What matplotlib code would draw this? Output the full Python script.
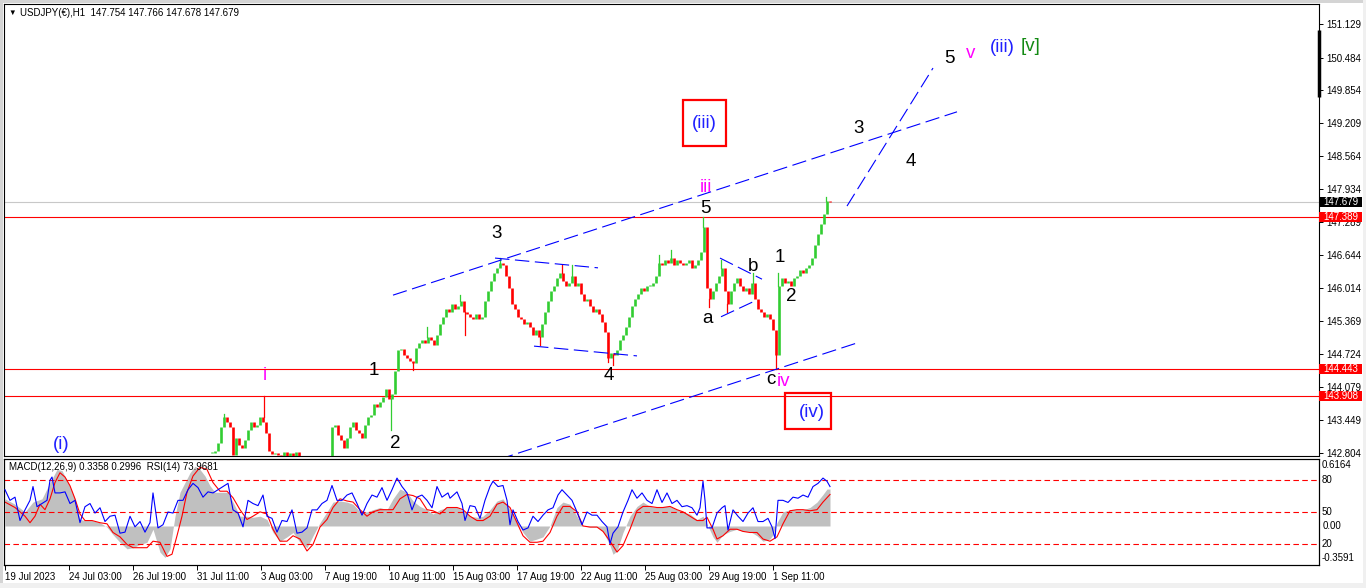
import numpy as np
import matplotlib.pyplot as plt
import matplotlib.transforms as mtransforms
from matplotlib.patches import Rectangle

W, H = 1366, 588
plt.rcParams['font.family'] = ['Liberation Sans', 'DejaVu Sans']

# bar numbers count hourly bars from 19 Jul 2023 11:00
# closes read every 3rd bar from bar 207 on (earlier bars sit below the window)
first_bar = 207
closes = [
    142.80, 142.85, 143.00, 143.30, 143.50, 143.40, 143.30, 142.76, 143.10, 142.95,
    142.90, 143.05, 143.25, 143.40, 143.30, 143.35, 143.50, 143.40, 143.20, 142.85,
    142.78, 142.80, 142.76, 142.70, 142.82, 142.65, 142.80, 142.70, 142.83, 142.60,
    142.55, 142.50, 142.55, 142.50, 142.45, 142.50, 142.55, 142.60, 142.65, 142.70,
    143.30, 143.35, 143.15, 143.05, 142.90, 143.10, 143.30, 143.40, 143.25, 143.20,
    143.10, 143.35, 143.50, 143.55, 143.75, 143.70, 143.80, 143.90, 144.05, 143.85,
    143.95, 144.40, 144.80, 144.82, 144.70, 144.65, 144.60, 144.55, 144.85, 144.95,
    145.00, 144.95, 145.05, 145.00, 144.90, 145.10, 145.30, 145.45, 145.60, 145.55,
    145.70, 145.60, 145.65, 145.75, 145.55, 145.50, 145.45, 145.40, 145.50, 145.40,
    145.45, 145.75, 145.95, 146.15, 146.30, 146.40, 146.50, 146.45, 146.25, 146.00,
    145.70, 145.60, 145.45, 145.40, 145.30, 145.35, 145.25, 145.10, 145.20, 145.05,
    145.30, 145.55, 145.75, 145.95, 146.05, 146.20, 146.30, 146.15, 146.05, 146.10,
    146.25, 146.05, 146.10, 145.90, 145.75, 145.80, 145.65, 145.55, 145.60, 145.50,
    145.35, 145.15, 144.65, 144.75, 144.70, 144.80, 145.00, 145.10, 145.25, 145.45,
    145.65, 145.80, 145.90, 146.00, 145.95, 146.05, 146.05, 146.10, 146.25, 146.50,
    146.45, 146.55, 146.50, 146.60, 146.45, 146.55, 146.50, 146.45, 146.50, 146.55,
    146.40, 146.45, 146.55, 146.70, 147.20, 146.00, 145.80, 145.95, 146.10, 146.25,
    146.40, 145.95, 145.70, 145.95, 146.10, 146.20, 146.05, 145.95, 146.00, 145.90,
    146.10, 145.80, 145.60, 145.55, 145.45, 145.50, 145.40, 145.20, 144.70, 146.05,
    146.20, 146.10, 146.15, 146.05, 146.20, 146.25, 146.35, 146.30, 146.40, 146.45,
    146.60, 146.85, 147.05, 147.25, 147.45, 147.70, 147.68,
]
# long wicks
spike_bars = [219, 259, 386, 408, 422, 455, 460, 495, 535, 557, 567, 603, 608,
              654, 666, 698, 704, 716, 722, 748, 771, 773, 821]
spike_prices = [143.56, 143.91, 143.25, 144.42, 145.25, 145.88, 145.10, 146.60,
                144.90, 146.46, 146.45, 144.57, 144.52, 146.65, 146.75, 147.39,
                145.64, 146.55, 145.55, 146.30, 144.44, 146.30, 147.78]

red_levels = [147.389, 144.443, 143.908]
last_price = 147.679

price_ticks = [142.804, 143.449, 144.079, 144.724, 145.369, 146.014, 146.644,
               147.289, 147.934, 148.564, 149.209, 149.854, 150.484, 151.129]
date_bars = [0, 64, 128, 192, 256, 320, 384, 448, 512, 576, 640, 704, 768]
date_labels = ['19 Jul 2023', '24 Jul 03:00', '26 Jul 19:00', '31 Jul 11:00',
               '3 Aug 03:00', '7 Aug 19:00', '10 Aug 11:00', '15 Aug 03:00',
               '17 Aug 19:00', '22 Aug 11:00', '25 Aug 03:00', '29 Aug 19:00',
               '1 Sep 11:00']

rsi_bars = [0, 5, 10, 15, 20, 25, 28, 32, 37, 42, 45, 47, 50, 55, 60, 65, 70, 75, 80, 85,
            90, 95, 100, 105, 110, 115, 120, 125, 130, 135, 140, 145, 148, 153, 158, 163,
            168, 173, 178, 183, 188, 193, 198, 203, 208, 213, 218, 223, 228, 233, 238,
            243, 248, 253, 258, 262, 267, 272, 277, 282, 287, 292, 297, 302, 307, 312,
            317, 322, 327, 332, 337, 342, 347, 352, 357, 362, 367, 372, 377, 382, 387,
            392, 397, 402, 407, 412, 417, 422, 427, 432, 437, 443, 445, 452, 457, 460,
            465, 470, 475, 480, 485, 488, 493, 498, 502, 505, 508, 513, 518, 523, 528,
            533, 538, 543, 548, 553, 557, 562, 567, 572, 577, 582, 587, 592, 597, 602,
            605, 608, 613, 618, 623, 627, 632, 637, 642, 647, 652, 657, 662, 667, 672,
            677, 682, 687, 692, 695, 698, 700, 702, 707, 712, 717, 720, 723, 728, 733,
            738, 743, 748, 753, 758, 763, 767, 770, 773, 778, 783, 788, 793, 798, 803,
            808, 813, 818, 822, 825]
rsi_vals = [71, 61, 64, 42, 52, 61, 74, 55, 58, 61, 80, 83, 68, 68, 69, 58, 61, 40, 55, 58,
            49, 54, 41, 46, 47, 30, 31, 46, 36, 41, 31, 40, 68, 35, 38, 50,
            49, 61, 61, 71, 77, 73, 64, 69, 68, 71, 74, 77, 52, 49,
            36, 61, 58, 56, 66, 46, 44, 31, 42, 41, 52, 30, 31, 35, 52,
            52, 58, 61, 75, 61, 61, 66, 68, 58, 47, 58, 66, 64, 73, 61,
            71, 82, 74, 68, 52, 64, 66, 61, 54, 74, 64, 68, 63, 69, 58, 42,
            56, 55, 44, 61, 74, 79, 74, 75, 61, 38, 52, 41, 33, 35, 46,
            41, 47, 52, 54, 66, 71, 66, 61, 50, 38, 50, 47, 47, 41, 36,
            20, 30, 36, 50, 61, 71, 63, 68, 61, 58, 71, 59, 68, 58, 61,
            55, 56, 54, 47, 54, 79, 61, 35, 35, 49, 54, 56, 33, 52, 46,
            41, 49, 54, 41, 41, 44, 36, 25, 61, 61, 59, 64, 63, 66, 64,
            74, 77, 82, 79, 74]

macd_bars = [0, 10, 20, 28, 37, 45, 52, 57, 63, 70, 75, 80, 87, 95, 102, 108, 115, 122,
             128, 135, 142, 148, 155, 160, 165, 170, 175, 180, 185, 190, 195, 200, 205,
             210, 217, 223, 228, 235, 242, 248, 255, 262, 268, 275, 282, 288, 295, 302,
             308, 315, 322, 328, 335, 342, 348, 355, 362, 368, 375, 382, 388, 395, 402,
             408, 415, 422, 428, 435, 442, 452, 458, 465, 472, 478, 485, 492, 498, 505,
             512, 518, 525, 532, 538, 545, 552, 558, 565, 572, 578, 585, 592, 598, 605,
             608, 612, 618, 625, 632, 638, 645, 652, 658, 665, 672, 678, 685, 692, 698,
             702, 708, 712, 718, 725, 732, 738, 745, 752, 758, 765, 768, 772, 778, 785,
             792, 798, 805, 812, 818, 822, 825]
macd_vals = [0.25, 0.20, 0.13, 0.22, 0.25, 0.40, 0.52, 0.51, 0.40, 0.25, 0.06, 0.05, 0.05,
             0.03, -0.01, -0.08, -0.15, -0.21, -0.20, -0.17, -0.15, -0.03, -0.24, -0.29,
             -0.21, 0.09, 0.31, 0.40, 0.49, 0.55, 0.52, 0.46, 0.37, 0.31, 0.31, 0.31, 0.22,
             0.09, 0.09, 0.08, 0.09, 0.06, -0.06, -0.14, -0.10, -0.06, -0.15, -0.20, -0.09,
             0.03, 0.13, 0.22, 0.23, 0.22, 0.20, 0.13, 0.13, 0.15, 0.17, 0.15, 0.25, 0.34,
             0.31, 0.23, 0.18, 0.15, 0.11, 0.15, 0.17, 0.17, 0.14, 0.09, 0.08, 0.09, 0.15,
             0.23, 0.25, 0.15, 0.05, -0.06, -0.14, -0.12, -0.10, 0.0, 0.17, 0.22, 0.20,
             0.09, 0.0, -0.01, -0.01, -0.05, -0.18, -0.26, -0.23, -0.06, 0.09, 0.18, 0.22,
             0.18, 0.17, 0.18, 0.18, 0.15, 0.13, 0.11, 0.06, 0.09, 0.02, -0.10, -0.15,
             -0.08, -0.05, -0.03, -0.05, -0.05, -0.09, -0.14, -0.12, -0.08, 0.03, 0.13,
             0.15, 0.15, 0.15, 0.17, 0.22, 0.29, 0.34, 0.34]

signal_bars = [0, 10, 20, 25, 30, 35, 40, 45, 50, 55, 60, 65, 70, 75, 80, 87, 95, 102,
               108, 115, 122, 128, 135, 142, 148, 155, 162, 167, 172, 177, 182, 188, 195,
               202, 208, 215, 222, 228, 235, 242, 248, 255, 262, 268, 275, 282, 288, 295,
               302, 308, 315, 322, 328, 335, 342, 348, 355, 362, 368, 375, 382, 388, 395,
               402, 408, 415, 422, 428, 435, 442, 452, 458, 465, 472, 478, 485, 492, 498,
               505, 512, 518, 525, 532, 538, 545, 552, 558, 565, 572, 578, 585, 592, 598,
               605, 612, 618, 625, 632, 638, 645, 652, 658, 665, 672, 678, 685, 692, 698,
               702, 708, 712, 718, 725, 732, 738, 745, 752, 758, 765, 772, 778, 785, 792,
               798, 805, 812, 818, 825]
signal_vals = [0.22, 0.17, 0.09, 0.03, 0.09, 0.20, 0.15, 0.25, 0.40, 0.49, 0.45, 0.37,
               0.25, 0.11, 0.05, 0.05, 0.03, 0.02, -0.06, -0.10, -0.17, -0.20, -0.20,
               -0.20, -0.14, -0.15, -0.28, -0.26, -0.09, 0.09, 0.31, 0.46, 0.54, 0.52,
               0.40, 0.32, 0.32, 0.26, 0.15, 0.06, 0.09, 0.13, 0.11, -0.03, -0.14, -0.14,
               -0.09, -0.12, -0.23, -0.17, -0.01, 0.06, 0.17, 0.25, 0.23, 0.22, 0.15, 0.09,
               0.13, 0.15, 0.15, 0.15, 0.25, 0.29, 0.28, 0.25, 0.15, 0.14, 0.11, 0.17, 0.17,
               0.15, 0.09, 0.05, 0.05, 0.09, 0.20, 0.22, 0.17, 0.03, -0.09, -0.15, -0.15,
               -0.14, -0.06, 0.09, 0.18, 0.18, 0.13, 0.0, -0.01, -0.01, -0.05, -0.14, -0.24,
               -0.18, -0.03, 0.14, 0.18, 0.18, 0.17, 0.17, 0.18, 0.15, 0.13, 0.09, 0.05,
               0.05, 0.08, -0.03, -0.12, -0.09, -0.03, -0.03, -0.05, -0.06, -0.06, -0.12,
               -0.14, -0.10, 0.02, 0.14, 0.15, 0.15, 0.14, 0.15, 0.22, 0.29]

FS = 7.0


def px_box(l, t, r, b):
    return [l / W, 1 - b / H, (r - l) / W, (b - t) / H]


fig = plt.figure(figsize=(W / 100, H / 100), dpi=100, facecolor='white')

# window frame
for (l, t, r, b, col) in [(0, 0, W, 3, '#d4d4d4'), (0, 0, 3, H, '#d4d4d4'),
                          (0, 583, W, H, '#f0f0f0'), (1363, 0, W, H, '#f0f0f0')]:
    fig.add_artist(Rectangle((l / W, 1 - b / H), (r - l) / W, (b - t) / H,
                             transform=fig.transFigure, color=col, lw=0, zorder=-5))

ymin, ymax = 142.746, 151.524
ax = fig.add_axes(px_box(4, 4, 1319, 456))
ax.set_xlim(-1, 1314)
ax.set_ylim(ymin, ymax)
ax.set_xticks([])
ax.yaxis.tick_right()
ax.set_yticks(price_ticks)
ax.set_yticklabels(['%.3f' % v for v in price_ticks])
ax.tick_params(axis='y', direction='out', length=3, width=0.7, pad=2, labelsize=FS)
for s in ax.spines.values():
    s.set_linewidth(0.8)
pp = (ymax - ymin) / 452.0
trans = mtransforms.blended_transform_factory(ax.transAxes, ax.transData)

# horizontal levels
ax.axhline(last_price, color='#c8c8c8', lw=0.8, zorder=1)
for lv in red_levels:
    ax.axhline(lv, color='red', lw=0.8, zorder=1)

# candles
c = np.array(closes)
o = np.r_[c[0], c[:-1]]
bars = first_bar + 3 * np.arange(len(c))
cols = np.where(c >= o, '#32cd32', '#ff0000')
lo = np.minimum(o, c)
hi = np.maximum(np.maximum(o, c), lo + 0.02)
ax.vlines(bars, lo, hi, colors=cols, lw=1.9, zorder=3)
for b, p in zip(spike_bars, spike_prices):
    j = int(round((b - first_bar) / 3))
    j = min(max(j, 0), len(c) - 1)
    base = hi[j] if p > hi[j] else lo[j]
    ax.plot([b, b], [base, p], color=cols[j], lw=0.9, zorder=3)

# trend lines
dash = (0, (13, 5))
for (b0, p0, b1, p1) in [(388, 145.87, 952, 149.43), (475, 142.56, 855, 144.96),
                         (842, 147.60, 928, 150.28), (490, 146.59, 593, 146.40),
                         (529, 144.88, 632, 144.69), (715, 146.59, 757, 146.18),
                         (716, 145.45, 748, 145.74)]:
    ax.plot([b0, b1], [p0, p1], color='#0000ff', lw=0.8, ls=dash, zorder=4)

# wave labels
blue, mag, blk, grn = '#2020ff', '#ff00ff', 'black', '#138a13'
for (s, b, p, col) in [('(i)', 56, 142.96, blue), ('i', 260, 144.30, mag),
                       ('1', 369, 144.40, blk), ('2', 390, 142.98, blk),
                       ('3', 492, 147.06, blk), ('4', 604, 144.30, blk),
                       ('iii', 701, 147.97, mag), ('5', 700, 147.56, blk),
                       ('a', 703, 145.41, blk), ('b', 748, 146.42, blk),
                       ('1', 775, 146.61, blk), ('2', 786, 145.85, blk),
                       ('c', 766, 144.24, blk), ('iv', 779, 144.20, mag),
                       ('(iv)', 807, 143.60, blue), ('(iii)', 699, 149.21, blue),
                       ('3', 854, 149.10, blk), ('4', 906, 148.46, blk),
                       ('5', 944, 150.46, blk), ('v', 966, 150.57, mag),
                       ('(iii)', 997, 150.67, blue), ('[v]', 1026, 150.69, grn)]:
    ax.text(b, p, s, color=col, fontsize=13.5, ha='center', va='center', zorder=6)
for (b0, p0, b1, p1) in [(678, 148.77, 721, 149.66), (780, 143.27, 826, 143.97)]:
    ax.add_patch(Rectangle((b0, p0), b1 - b0, p1 - p0, fill=False, ec='red', lw=1.6, zorder=6))

# price tags on the axis
for (p, fc) in [(last_price, 'black'), (147.389, 'red'), (144.443, 'red'), (143.908, 'red')]:
    ax.add_patch(Rectangle((1.0, p - 5 * pp), 43 / 1315, 10 * pp, transform=trans,
                           color=fc, lw=0, clip_on=False, zorder=10))
    ax.text(1 + 4 / 1315, p, '%.3f' % p, transform=trans, color='white', fontsize=FS,
            va='center', ha='left', zorder=11, clip_on=False)
ax.plot([1, 1], [149.72, 151.02], transform=trans, color='black', lw=2.5,
        clip_on=False, solid_capstyle='butt', zorder=10)

fig.text(12 / W, 1 - 13 / H, '\u25bc', fontsize=5.5, ha='center', va='center')
fig.text(20 / W, 1 - 13 / H, 'USDJPY(\u20ac),H1  147.754 147.766 147.678 147.679',
         fontsize=FS, ha='left', va='center')

# indicator window
ax2 = fig.add_axes(px_box(4, 459, 1319, 565))
ax2.set_xlim(-1, 1314)
ax2.set_ylim(-0.3591, 0.6164)
ax2.set_yticks([])
ax2.set_xticks(date_bars)
ax2.set_xticklabels(date_labels)
ax2.tick_params(axis='x', direction='out', length=3.5, width=0.7, pad=1.5, labelsize=FS)
for lbl in ax2.get_xticklabels():
    lbl.set_ha('left')
for s in ax2.spines.values():
    s.set_linewidth(0.8)
ax2.fill_between(macd_bars, 0, macd_vals, color='#c0c0c0', lw=0, zorder=1)
ax2.plot(signal_bars, signal_vals, color='red', lw=0.8, zorder=2)

axr = ax2.twinx()
axr.set_ylim(0, 100)
axr.set_yticks([])
axr.patch.set_visible(False)
for lv in [80, 50, 20]:
    axr.axhline(lv, color='red', lw=0.8, ls=(0, (5, 3)), zorder=1)
axr.plot(rsi_bars, rsi_vals, color='#0000ff', lw=0.8, zorder=3)

t2 = mtransforms.blended_transform_factory(axr.transAxes, axr.transData)
for (v, s) in [(94.5, '0.6164'), (80, '80'), (50, '50'), (20, '20'), (6.4, '-0.3591')]:
    axr.text(1 + 3 / 1315, v, s, transform=t2, fontsize=FS, va='center', ha='left', clip_on=False)
t3 = mtransforms.blended_transform_factory(ax2.transAxes, ax2.transData)
ax2.text(1 + 4 / 1315, 0.0, '0.00', transform=t3, fontsize=FS, va='center', ha='left', clip_on=False)
axr.text(5 / 1315, 0.92, 'MACD(12,26,9) 0.3358 0.2996  RSI(14) 73.9681', transform=axr.transAxes,
         fontsize=FS, va='center', ha='left')

fig.savefig('out.png', dpi=100, facecolor=fig.get_facecolor())
